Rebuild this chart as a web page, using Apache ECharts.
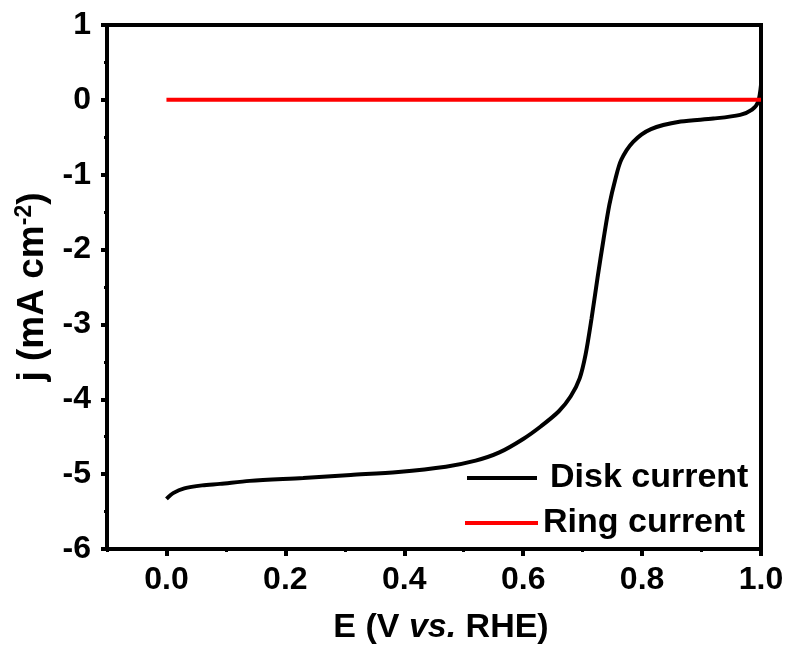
<!DOCTYPE html>
<html>
<head>
<meta charset="utf-8">
<script src="https://cdn.jsdelivr.net/npm/echarts@6/dist/echarts.min.js"></script>
<style>
  html, body { margin: 0; padding: 0; background: #fff; }
  #chart { width: 788px; height: 655px; }
</style>
</head>
<body>
<div id="chart"></div>
<script>
// RRDE polarization: disk and ring current vs. potential
const diskE = [0.000, 0.012, 0.030, 0.060, 0.090, 0.140, 0.230, 0.310, 0.390, 0.470, 0.520, 0.560,
               0.600, 0.630, 0.660, 0.680, 0.695, 0.705, 0.715, 0.725, 0.735, 0.745, 0.755, 0.765,
               0.785, 0.815, 0.865, 0.920, 0.965, 0.985, 0.995, 1.000];
const diskJ = [-5.33, -5.25, -5.19, -5.15, -5.13, -5.09, -5.05, -5.01, -4.97, -4.90, -4.82, -4.71,
               -4.53, -4.36, -4.16, -3.96, -3.72, -3.40, -2.92, -2.38, -1.87, -1.40, -1.06, -0.80,
               -0.56, -0.39, -0.29, -0.25, -0.20, -0.13, -0.03, 0.20];
const ringE = [0.000, 0.250, 0.500, 0.750, 1.000];
const ringJ = [0.00, 0.00, 0.00, 0.00, 0.00];

const xTicks = [0.0, 0.2, 0.4, 0.6, 0.8, 1.0];
const seriesNames = ['Disk current', 'Ring current'];

const FONT = "'Liberation Sans', Arial, sans-serif";
const base = { fontFamily: FONT, fontWeight: 'bold', color: '#000' };

const pair = (xs, ys) => xs.map((x, i) => [x, ys[i]]);

const chart = echarts.init(document.getElementById('chart'), null, { renderer: 'canvas' });
chart.setOption({
  animation: false,
  backgroundColor: '#fff',
  grid: {
    left: 107, right: 27, top: 25, bottom: 106,
    show: true, borderColor: '#000', borderWidth: 4, backgroundColor: 'transparent'
  },
  xAxis: [{
    type: 'value', min: -0.1, max: 1.0, interval: 0.1,
    name: 'E (V {it|vs.} RHE)', nameLocation: 'middle', nameGap: 62,
    nameTextStyle: Object.assign({}, base, {
      fontSize: 34, padding: [0, 0, 0, 14],
      rich: { it: Object.assign({}, base, { fontSize: 34, fontStyle: 'italic' }) }
    }),
    axisLine: { show: true, onZero: false, lineStyle: { color: '#000', width: 4 } },
    axisTick: { show: true, customValues: xTicks, length: 7, lineStyle: { color: '#000', width: 4 } },
    axisLabel: Object.assign({}, base, {
      fontSize: 32, margin: 15, customValues: xTicks,
      formatter: v => v.toFixed(1)
    }),
    splitLine: { show: false }
  }, {
    // minor ticks every 0.1
    type: 'value', min: -0.1, max: 1.0, interval: 0.1, position: 'bottom',
    axisLine: { show: false, onZero: false },
    axisTick: { show: true, inside: false, length: 3, lineStyle: { color: '#000', width: 3 } },
    axisLabel: { show: false },
    splitLine: { show: false }
  }],
  yAxis: {
    type: 'value', min: -6, max: 1, interval: 1,
    name: 'j (mA cm{sup|-2})', nameLocation: 'middle', nameGap: 52,
    nameTextStyle: Object.assign({}, base, {
      fontSize: 37,
      rich: { sup: Object.assign({}, base, { fontSize: 23, verticalAlign: 'bottom', padding: [0, 0, 16, 0] }) }
    }),
    axisLine: { show: true, onZero: false, lineStyle: { color: '#000', width: 4 } },
    axisTick: { show: true, length: 6, lineStyle: { color: '#000', width: 4 } },
    minorTick: { show: true, splitNumber: 2, length: 3, lineStyle: { color: '#000', width: 3 } },
    axisLabel: Object.assign({}, base, { fontSize: 32, margin: 16 }),
    splitLine: { show: false }
  },
  legend: [{
    data: [seriesNames[0]], left: 462, top: 456, orient: 'vertical',
    icon: 'rect', itemWidth: 70, itemHeight: 4, itemGap: 0,
    textStyle: Object.assign({}, base, { fontSize: 34, padding: [0, 0, 0, 8] })
  }, {
    data: [seriesNames[1]], left: 460, top: 501, orient: 'vertical',
    icon: 'rect', itemWidth: 73, itemHeight: 4, itemGap: 0,
    textStyle: Object.assign({}, base, { fontSize: 34, padding: [0, 0, 0, 0] })
  }],
  series: [{
    name: seriesNames[0], type: 'line', xAxisIndex: 0, showSymbol: false, symbol: 'none',
    smooth: 0.3, data: pair(diskE, diskJ),
    lineStyle: { color: '#000', width: 4 }, itemStyle: { color: '#000' }
  }, {
    name: seriesNames[1], type: 'line', xAxisIndex: 0, showSymbol: false, symbol: 'none',
    data: pair(ringE, ringJ),
    lineStyle: { color: '#ff0000', width: 4 }, itemStyle: { color: '#ff0000' }
  }]
});
</script>
</body>
</html>
